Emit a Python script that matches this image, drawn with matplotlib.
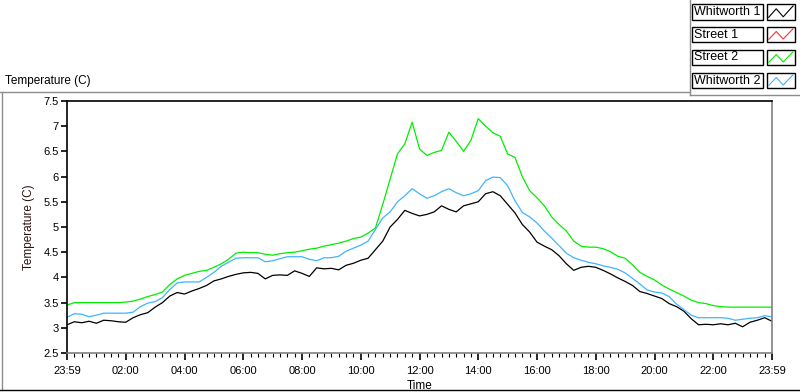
import numpy as np
import matplotlib

matplotlib.use("Agg")
import matplotlib.pyplot as plt
from matplotlib.lines import Line2D
from matplotlib.patches import Rectangle
from matplotlib.ticker import MultipleLocator

plt.rcParams["font.family"] = ["Liberation Sans", "DejaVu Sans"]

# 15 minute samples from 23:59 to 23:59 (hours since start)
HOURS = np.arange(0, 24.01, 0.25)

WHITWORTH_1 = [
    3.06, 3.12, 3.10, 3.13, 3.09, 3.15, 3.14, 3.12, 3.11, 3.20, 3.26, 3.30,
    3.41, 3.50, 3.63, 3.70, 3.67, 3.73, 3.78, 3.84, 3.93, 3.97, 4.02, 4.06,
    4.09, 4.10, 4.08, 3.97, 4.04, 4.05, 4.04, 4.13, 4.08, 4.02, 4.19, 4.17,
    4.18, 4.15, 4.24, 4.28, 4.34, 4.38, 4.55, 4.72, 5.00, 5.15, 5.33, 5.27,
    5.22, 5.25, 5.30, 5.42, 5.35, 5.30, 5.42, 5.46, 5.50, 5.66, 5.70, 5.62,
    5.45, 5.28, 5.05, 4.90, 4.70, 4.62, 4.55, 4.43, 4.27, 4.14, 4.20, 4.22,
    4.20, 4.14, 4.07, 3.99, 3.92, 3.84, 3.72, 3.68, 3.63, 3.58, 3.48, 3.42,
    3.33, 3.18, 3.06, 3.07, 3.06, 3.08, 3.06, 3.09, 3.02, 3.11, 3.15, 3.20,
    3.13,
]

STREET_1 = []  # no data logged

STREET_2 = [
    3.45, 3.50, 3.50, 3.50, 3.50, 3.50, 3.50, 3.50, 3.51, 3.53, 3.57, 3.62,
    3.66, 3.71, 3.86, 3.97, 4.04, 4.08, 4.12, 4.14, 4.20, 4.27, 4.36, 4.48,
    4.50, 4.49, 4.49, 4.46, 4.44, 4.47, 4.49, 4.50, 4.53, 4.56, 4.58, 4.62,
    4.65, 4.68, 4.72, 4.77, 4.80, 4.88, 4.98, 5.45, 5.95, 6.45, 6.65, 7.08,
    6.55, 6.42, 6.48, 6.52, 6.88, 6.70, 6.50, 6.72, 7.15, 7.00, 6.87, 6.80,
    6.45, 6.38, 6.00, 5.72, 5.58, 5.42, 5.20, 5.05, 4.92, 4.72, 4.62, 4.60,
    4.60, 4.57, 4.51, 4.42, 4.38, 4.25, 4.10, 4.02, 3.95, 3.85, 3.77, 3.70,
    3.63, 3.55, 3.50, 3.48, 3.44, 3.42, 3.41, 3.41, 3.41, 3.41, 3.41, 3.41,
    3.41,
]

WHITWORTH_2 = [
    3.21, 3.28, 3.27, 3.22, 3.25, 3.29, 3.29, 3.29, 3.29, 3.31, 3.42, 3.49,
    3.52, 3.60, 3.76, 3.89, 3.91, 3.91, 3.91, 4.00, 4.10, 4.22, 4.30, 4.38,
    4.39, 4.39, 4.39, 4.31, 4.33, 4.37, 4.41, 4.41, 4.41, 4.36, 4.33, 4.39,
    4.39, 4.42, 4.52, 4.58, 4.64, 4.72, 4.95, 5.18, 5.30, 5.50, 5.62, 5.76,
    5.66, 5.57, 5.62, 5.70, 5.76, 5.68, 5.62, 5.66, 5.72, 5.92, 5.99, 5.98,
    5.82, 5.52, 5.29, 5.20, 5.08, 4.92, 4.78, 4.63, 4.48, 4.39, 4.34, 4.30,
    4.27, 4.23, 4.20, 4.16, 4.09, 3.98, 3.87, 3.75, 3.71, 3.69, 3.62, 3.47,
    3.36, 3.25, 3.20, 3.20, 3.20, 3.20, 3.19, 3.15, 3.17, 3.19, 3.20, 3.24,
    3.22,
]

SERIES = [
    ("Whitworth 1", WHITWORTH_1, "#000000"),
    ("Street 1", STREET_1, "#ff3030"),
    ("Street 2", STREET_2, "#00ee00"),
    ("Whitworth 2", WHITWORTH_2, "#3fb4ff"),
]

X_TICKS = np.arange(0, 24.01, 2)
X_LABELS = ["23:59", "02:00", "04:00", "06:00", "08:00", "10:00", "12:00",
            "14:00", "16:00", "18:00", "20:00", "22:00", "23:59"]
Y_TICKS = np.arange(2.5, 7.51, 0.5)
Y_LABELS = ["2.5", "3", "3.5", "4", "4.5", "5", "5.5", "6", "6.5", "7", "7.5"]

W, H = 800, 392
fig = plt.figure(figsize=(W / 100, H / 100), dpi=100)
ax = fig.add_axes([67 / W, (H - 353) / H, 705 / W, 252 / H])

for name, values, color in SERIES:
    if len(values) == 0:
        continue
    ax.plot(HOURS, values, color=color, lw=0.9)

ax.set_xlim(0, 24)
ax.set_ylim(2.5, 7.5)
ax.set_xticks(X_TICKS)
ax.set_xticklabels(X_LABELS)
ax.xaxis.set_minor_locator(MultipleLocator(0.25))
ax.set_yticks(Y_TICKS)
ax.set_yticklabels(Y_LABELS)
ax.tick_params(axis="both", which="major", direction="out", length=4, width=1.2, labelsize=8, colors="black", pad=2)
ax.tick_params(axis="x", which="minor", direction="out", length=3, width=0.8, colors="black")
ax.tick_params(axis="x", which="major", length=5, pad=4)

ax.spines["left"].set_color("black")
ax.spines["top"].set_color("black")
ax.spines["right"].set_color("#808080")
ax.spines["bottom"].set_color("#808080")
for s in ax.spines.values():
    s.set_linewidth(1.2)

ax.set_xlabel("Time", fontsize=8.5, labelpad=3)
ax.set_ylabel("Temperature (C)", fontsize=8.5, color="#301010", labelpad=6)

# panel caption and frame
fig.text(5 / W, 1 - 81 / H, "Temperature (C)", fontsize=8.5, ha="left", va="center")
frame = dict(transform=fig.transFigure, lw=1.0)
fig.add_artist(Line2D([0, 690 / W], [1 - 91.5 / H] * 2, color="#8c8c8c", **frame))
fig.add_artist(Line2D([1.5 / W] * 2, [1 - 91.5 / H, 1 - 390 / H], color="#8c8c8c", **frame))
fig.add_artist(Line2D([0, 1], [1 - 390 / H] * 2, color="black", **frame))
fig.add_artist(Line2D([690 / W] * 2, [1, 1 - 94.5 / H], color="#8c8c8c", **frame))
fig.add_artist(Line2D([690 / W, 1], [1 - 94.5 / H] * 2, color="#8c8c8c", **frame))

# legend boxes
rows = [(4, 20), (27, 42), (50, 65), (73, 88)]
zig_x = [0.06, 0.33, 0.58, 0.93]
zig_y = [0.83, 0.30, 0.80, 0.12]
for (name, _, color), (top, bot) in zip(SERIES, rows):
    fy = 1 - bot / H
    fh = (bot - top) / H
    fig.add_artist(Rectangle((692 / W, fy), 71 / W, fh, transform=fig.transFigure,
                             facecolor="white", edgecolor="black", lw=1.0))
    fig.add_artist(Rectangle((767 / W, fy), 28 / W, fh, transform=fig.transFigure,
                             facecolor="white", edgecolor="black", lw=1.0))
    fig.text(694 / W, 1 - (top + bot) / 2 / H, name, fontsize=9, ha="left", va="center")
    xs = [(767 + 28 * f) / W for f in zig_x]
    ys = [1 - (top + (bot - top) * f) / H for f in zig_y]
    fig.add_artist(Line2D(xs, ys, color=color, lw=0.8, transform=fig.transFigure))

fig.savefig("out.png", dpi=100)
